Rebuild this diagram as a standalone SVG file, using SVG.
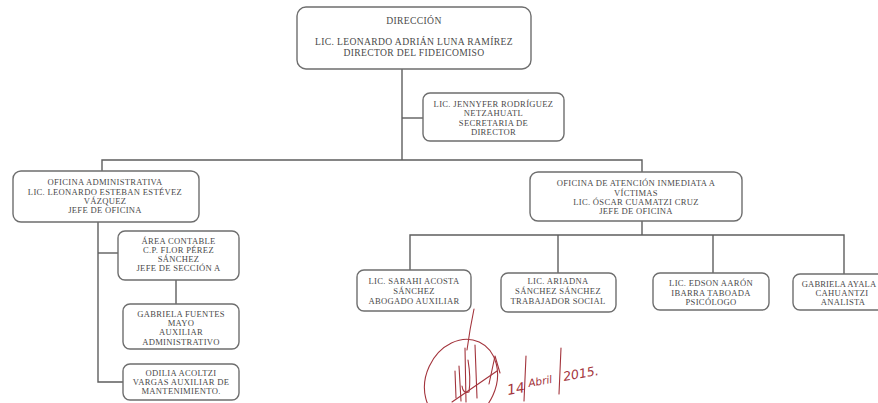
<svg xmlns="http://www.w3.org/2000/svg" width="878" height="403" viewBox="0 0 878 403">
<style>
  .box{fill:#ffffff;stroke:#6e6e6e;stroke-width:1.4}
  .t{font-family:"Liberation Serif","Times New Roman",serif;font-size:8.6px;letter-spacing:0.3px;fill:#4a4a4a;text-anchor:middle}
  .tb{font-size:9.6px;letter-spacing:0.35px}
  .c{fill:none;stroke:#5e5e5e;stroke-width:1.4}
  .sig{fill:none;stroke:#a3343c;stroke-width:1.1;stroke-linecap:round;stroke-linejoin:round}
  .hw{font-family:"DejaVu Sans",sans-serif;font-style:italic;fill:#a3343c}
</style>
<rect width="878" height="403" fill="#ffffff"/>
<g id="connectors">
  <path class="c" d="M402,69 V160"/>
  <path class="c" d="M402,118 H423"/>
  <path class="c" d="M102,171 V160 H642 V172"/>
  <path class="c" d="M98,222 V382 H123"/>
  <path class="c" d="M98,253 H118"/>
  <path class="c" d="M176,280 V304"/>
  <path class="c" d="M642,221 V235"/>
  <path class="c" d="M410,270 V235 H844 V274"/>
  <path class="c" d="M558,235 V273"/>
  <path class="c" d="M713,235 V273"/>
</g>
<g id="n-direccion">
  <rect class="box" x="297" y="7" width="234" height="62" rx="9"/>
  <text class="t tb" x="414" y="23.5">DIRECCIÓN</text>
  <text class="t tb" x="414" y="44.5">LIC. LEONARDO ADRIÁN LUNA RAMÍREZ</text>
  <text class="t tb" x="414" y="55.5">DIRECTOR DEL FIDEICOMISO</text>
</g>
<g id="n-secretaria">
  <rect class="box" x="423" y="93" width="141" height="48" rx="7"/>
  <text class="t" x="493.5" y="107">LIC. JENNYFER RODRÍGUEZ</text>
  <text class="t" x="493.5" y="116">NETZAHUATL</text>
  <text class="t" x="493.5" y="125.5">SECRETARIA DE</text>
  <text class="t" x="493.5" y="134.8">DIRECTOR</text>
</g>
<g id="n-oficina-admin">
  <rect class="box" x="13" y="171" width="186" height="51" rx="8"/>
  <text class="t" x="105" y="185">OFICINA ADMINISTRATIVA</text>
  <text class="t" x="105" y="195">LIC. LEONARDO ESTEBAN ESTÉVEZ</text>
  <text class="t" x="105" y="204">VÁZQUEZ</text>
  <text class="t" x="105" y="213">JEFE DE OFICINA</text>
</g>
<g id="n-area-contable">
  <rect class="box" x="118" y="231" width="121" height="49" rx="7"/>
  <text class="t" x="178.5" y="244">ÁREA CONTABLE</text>
  <text class="t" x="178.5" y="253">C.P. FLOR PÉREZ</text>
  <text class="t" x="178.5" y="262">SÁNCHEZ</text>
  <text class="t" x="178.5" y="271">JEFE DE SECCIÓN A</text>
</g>
<g id="n-gabriela-fuentes">
  <rect class="box" x="123" y="304" width="116" height="45" rx="7"/>
  <text class="t" x="181" y="317">GABRIELA FUENTES</text>
  <text class="t" x="181" y="326">MAYO</text>
  <text class="t" x="181" y="335">AUXILIAR</text>
  <text class="t" x="181" y="345">ADMINISTRATIVO</text>
</g>
<g id="n-odilia">
  <rect class="box" x="123" y="364" width="116" height="36" rx="7"/>
  <text class="t" x="181" y="376">ODILIA ACOLTZI</text>
  <text class="t" x="181" y="385">VARGAS AUXILIAR DE</text>
  <text class="t" x="181" y="394">MANTENIMIENTO.</text>
</g>
<g id="n-oficina-atencion">
  <rect class="box" x="530" y="172" width="212" height="49" rx="8"/>
  <text class="t" x="636" y="186">OFICINA DE ATENCIÓN INMEDIATA A</text>
  <text class="t" x="636" y="195.5">VÍCTIMAS</text>
  <text class="t" x="636" y="205">LIC. ÓSCAR CUAMATZI CRUZ</text>
  <text class="t" x="636" y="214">JEFE DE OFICINA</text>
</g>
<g id="n-sarahi">
  <rect class="box" x="357" y="270" width="114" height="41" rx="7"/>
  <text class="t" x="414" y="284">LIC. SARAHI ACOSTA</text>
  <text class="t" x="414" y="294">SÁNCHEZ</text>
  <text class="t" x="414" y="304">ABOGADO AUXILIAR</text>
</g>
<g id="n-ariadna">
  <rect class="box" x="501" y="273" width="115" height="39" rx="7"/>
  <text class="t" x="558" y="284">LIC. ARIADNA</text>
  <text class="t" x="558" y="294">SÁNCHEZ SÁNCHEZ</text>
  <text class="t" x="558" y="304">TRABAJADOR SOCIAL</text>
</g>
<g id="n-edson">
  <rect class="box" x="653" y="273" width="116" height="37" rx="7"/>
  <text class="t" x="711" y="286">LIC. EDSON AARÓN</text>
  <text class="t" x="711" y="296">IBARRA TABOADA</text>
  <text class="t" x="711" y="305">PSICÓLOGO</text>
</g>
<g id="n-gabriela-ayala">
  <rect class="box" x="793" y="274" width="116" height="36" rx="7"/>
  <text class="t" x="839" y="287" style="letter-spacing:0.1px">GABRIELA AYALA</text>
  <text class="t" x="842" y="296">CAHUANTZI</text>
  <text class="t" x="843" y="305">ANALISTA</text>
</g>
<g id="signature">
  <path class="sig" d="M474,309 Q470,328 467,350"/>
  <ellipse class="sig" cx="461" cy="381" rx="35" ry="43" transform="rotate(25 461 381)"/>
  <path class="sig" d="M455,371 L456,398"/>
  <path class="sig" d="M459,366 L461,401"/>
  <path class="sig" d="M465,348 L466,402"/>
  <path class="sig" d="M468,360 Q471,378 469,392 Q463,394 462,386"/>
  <path class="sig" d="M475,345 L477,398"/>
  <path class="sig" d="M452,402 L497,371"/>
  <path class="sig" d="M489,384 L495,356 L500,373"/>
  <path class="sig" d="M526,356 L524,401"/>
  <path class="sig" d="M561,348 L559,394"/>
  <text class="hw" font-size="14" x="508" y="395" transform="rotate(-10 508 395)">14</text>
  <text class="hw" font-size="10.5" x="529" y="387" transform="rotate(-10 529 387)">Abril</text>
  <text class="hw" font-size="12.5" x="564" y="381" transform="rotate(-10 564 381)">2015.</text>
</g>
</svg>
